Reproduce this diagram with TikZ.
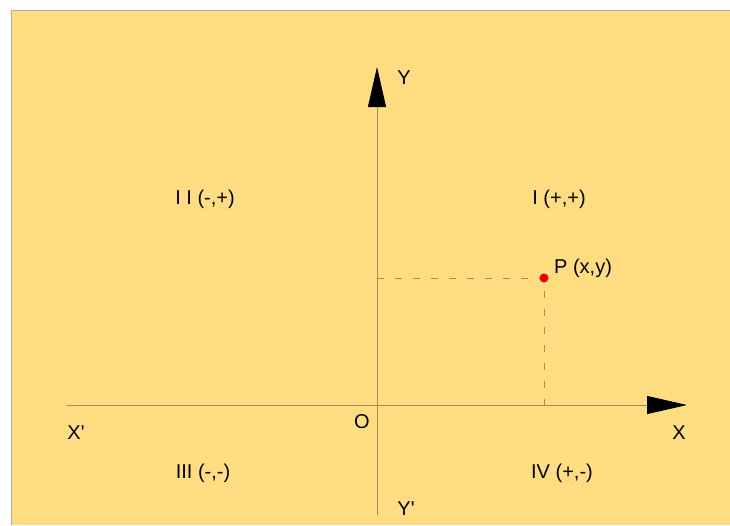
\documentclass[tikz,border=0pt]{standalone}
\usepackage{fontspec}
\setmainfont{Liberation Sans}
\usetikzlibrary{positioning,calc,arrows.meta}
\definecolor{paper}{RGB}{255,221,128}
\definecolor{axisgray}{RGB}{160,140,95}
\definecolor{framegray}{RGB}{175,175,175}
\definecolor{dotred}{RGB}{228,0,0}

\begin{document}
\begin{tikzpicture}[x=1pt,y=-1pt,
	axisline/.style={draw=axisgray,line width=0.9pt,-{Triangle[length=40pt,width=18pt,color=black]}},
	guide/.style={draw=axisgray,line width=0.9pt,dash pattern=on 7pt off 11pt},
	lbl/.style={font=\fontsize{20}{23}\selectfont,inner sep=0pt}]
		\useasboundingbox (0,0) rectangle (730,525);
		\fill[white] (0,0) rectangle (730,525);
		\fill[paper] (11,10) rectangle (730,525);
		\draw[framegray,line width=1.2pt] (11.6,525) -- (11.6,10.6) -- (730,10.6);
		% axes
		\coordinate (o) at (377,405);
		\coordinate (xl) at (67,405);
		\coordinate (xr) at (687,405);
		\coordinate (yt) at (377,67);
		\coordinate (yb) at (377,515);
		\draw[axisline] (xl) -- (xr);
		\draw[axisline] (yb) -- (yt);
		% point P
		\coordinate (px) at (544,405);
		\coordinate (py) at (377,278);
		\coordinate (p) at (544,278);
		\draw[guide] (py) -- (p) -- (px);
		\node[circle,fill=dotred,inner sep=0pt,minimum size=9pt] (pdot) at (p) {};
		\node[lbl,anchor=west] (plbl) at (554,268) {P (x,y)};
		% axis labels
		\node[lbl] (ylbl) at (404,78) {Y};
		\node[lbl] (xlbl) at (679,433) {X};
		\node[lbl] (xplbl) at (76,433) {X\textquotesingle};
		\node[lbl] (olbl) at (362,422) {O};
		\node[lbl] (yplbl) at (406,509) {Y\textquotesingle};
		% quadrants
		\node[lbl] (q2) at (205,199) {I I (-,+)};
		\node[lbl] (q1) at (559,199) {I (+,+)};
		\node[lbl] (q3) at (203,473) {III (-,-)};
		\node[lbl] (q4) at (562,473) {IV (+,-)};
	\end{tikzpicture}
\end{document}
